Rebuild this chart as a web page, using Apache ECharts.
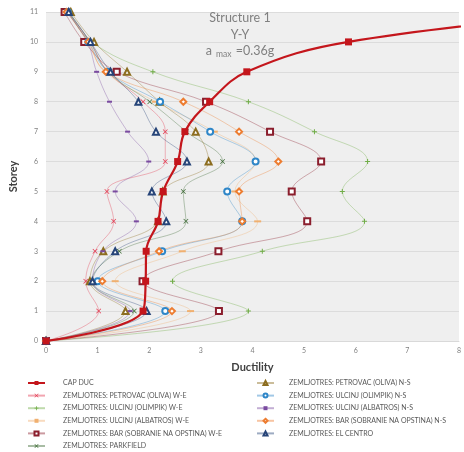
<!DOCTYPE html>
<html>
<head>
<meta charset="utf-8">
<script src="https://cdn.jsdelivr.net/npm/echarts@6/dist/echarts.min.js"></script>
<style>
  html, body { margin: 0; padding: 0; background: #ffffff; }
  #chart { width: 464px; height: 452px; }
</style>
</head>
<body>
<div id="chart"></div>
<script>
// storey levels (y) and ductility per storey for each record (x)
const storeys = [0, 1, 2, 3, 4, 5, 6, 7, 8, 9, 10, 11];
const xTicks = [0, 1, 2, 3, 4, 5, 6, 7, 8];

const capDuc = [0, 1.88, 1.93, 1.94, 2.17, 2.27, 2.55, 2.69, 3.17, 3.89, 5.86, 10.8];
const petrovacWE = [0, 1.02, 0.77, 0.95, 1.31, 1.18, 2.31, 2.31, 1.88, 1.2, 0.85, 0.42];
const olimpikWE = [0, 3.92, 2.45, 4.19, 6.17, 5.74, 6.23, 5.2, 3.92, 2.07, 0.88, 0.45];
const albatrosWE = [0, 2.8, 1.34, 2.64, 4.1, 3.66, 4.06, 3.26, 2.12, 1.15, 0.8, 0.42];
const barWE = [0, 3.35, 1.87, 3.34, 5.06, 4.76, 5.33, 4.34, 3.1, 1.37, 0.74, 0.36];
const parkfield = [0, 1.71, 0.88, 1.42, 2.71, 2.66, 3.42, 2.72, 2.01, 1.2, 0.85, 0.44];
const petrovacNS = [0, 1.54, 0.85, 1.11, 2.17, 2.26, 3.15, 2.9, 2.2, 1.57, 0.93, 0.48];
const olimpikNS = [0, 2.31, 1.0, 2.25, 3.8, 3.51, 4.06, 3.18, 2.21, 1.2, 0.82, 0.42];
const albatrosNS = [0, 1.63, 0.9, 1.1, 1.75, 1.34, 1.99, 1.58, 1.23, 0.98, 0.8, 0.4];
const barNS = [0, 2.44, 1.09, 2.19, 3.8, 3.74, 4.5, 3.74, 2.66, 1.16, 0.82, 0.4];
const elCentro = [0, 1.95, 0.9, 1.34, 2.33, 2.05, 2.73, 2.13, 1.79, 1.25, 0.86, 0.44];

const FONT = "Lato, 'Open Sans', sans-serif";
const CROSS = "path://M1,0L5,4L9,0L10,1L6,5L10,9L9,10L5,6L1,10L0,9L4,5L0,1Z";
const PLUS = "path://M4,0h2v4h4v2h-4v4h-2v-4h-4v-2h4z";
const DASH = "path://M0,0h10v3h-10z";

const records = [
  { name: "ZEMLJOTRES: PETROVAC (OLIVA) W-E", data: petrovacWE, color: "#e2384f", symbol: CROSS, size: 5 },
  { name: "ZEMLJOTRES: ULCINJ (OLIMPIK) W-E", data: olimpikWE, color: "#70ad47", symbol: PLUS, size: 5 },
  { name: "ZEMLJOTRES: ULCINJ (ALBATROS) W-E", data: albatrosWE, color: "#f0b070", symbol: DASH, size: [7, 2] },
  { name: "ZEMLJOTRES: BAR (SOBRANIE NA OPSTINA) W-E", data: barWE, color: "#8b1e2d", symbol: "emptyRect", size: 6 },
  { name: "ZEMLJOTRES: PARKFIELD", data: parkfield, color: "#3d6b35", symbol: CROSS, size: 5 },
  { name: "ZEMLJOTRES: PETROVAC (OLIVA) N-S", data: petrovacNS, color: "#8c6d1f", symbol: "emptyTriangle", size: 6 },
  { name: "ZEMLJOTRES: ULCINJ (OLIMPIK) N-S", data: olimpikNS, color: "#2e86c8", symbol: "emptyCircle", size: 6 },
  { name: "ZEMLJOTRES: ULCINJ (ALBATROS) N-S", data: albatrosNS, color: "#7a4ba0", symbol: DASH, size: [5, 2] },
  { name: "ZEMLJOTRES: BAR (SOBRANIE NA OPSTINA) N-S", data: barNS, color: "#ed7d31", symbol: "emptyDiamond", size: 6 },
  { name: "ZEMLJOTRES: EL CENTRO", data: elCentro, color: "#264478", symbol: "emptyTriangle", size: 6 }
];

function toPoints(values) {
  return values.map((x, i) => [x, storeys[i]]);
}

const series = records.map((r) => ({
  name: r.name,
  type: "line",
  data: toPoints(r.data),
  smooth: 0.4,
  symbol: r.symbol,
  symbolSize: r.size,
  showAllSymbol: true,
  itemStyle: { color: r.color, borderWidth: 1.1 },
  lineStyle: { color: r.color, width: 0.8, opacity: 0.45 },
  z: 2
}));

series.push({
  name: "CAP DUC",
  type: "line",
  data: toPoints(capDuc),
  smooth: 0.4,
  symbol: "rect",
  symbolSize: 7,
  itemStyle: { color: "#c4161c" },
  lineStyle: { color: "#c4161c", width: 2.2 },
  z: 5
});

function legendBlock(names, left, textGap) {
  return {
    data: names,
    orient: "vertical",
    left: left,
    top: 379,
    padding: 0,
    itemWidth: 17,
    itemHeight: 5,
    itemGap: 4.6,
    textStyle: { color: "#595959", fontSize: 7, fontFamily: FONT, padding: [0, 0, 0, textGap], lineHeight: 8 }
  };
}

const chart = echarts.init(document.getElementById("chart"));
chart.setOption({
  animation: false,
  backgroundColor: "#ffffff",
  title: {
    text: "Structure 1\nY-Y\na{sub|max} =0.36g",
    left: 240,
    top: 10,
    padding: 0,
    textAlign: "center",
    textStyle: {
      color: "#808080",
      fontSize: 12.5,
      fontWeight: "normal",
      fontFamily: FONT,
      lineHeight: 16.5,
      rich: {
        sub: { fontSize: 8.5, color: "#808080", fontFamily: FONT, padding: [7, 1, 0, 4] }
      }
    }
  },
  grid: {
    left: 40,
    right: 2,
    top: 12,
    bottom: 111,
    show: true,
    backgroundColor: "#efefef",
    borderWidth: 0
  },
  legend: [
    legendBlock(["CAP DUC", records[0].name, records[1].name, records[2].name, records[3].name, records[4].name], 27, 13),
    legendBlock([records[5].name, records[6].name, records[7].name, records[8].name, records[9].name], 256, 10)
  ],
  xAxis: {
    type: "value",
    min: xTicks[0],
    max: xTicks[xTicks.length - 1],
    interval: 1,
    name: "Ductility",
    nameLocation: "middle",
    nameGap: 21,
    nameTextStyle: { color: "#404040", fontSize: 11, fontWeight: "bold", fontFamily: FONT },
    axisLine: { show: true, lineStyle: { color: "#d9d9d9" } },
    axisTick: { show: false },
    axisLabel: { color: "#808080", fontSize: 7, fontFamily: FONT, margin: 6 },
    splitLine: { show: false }
  },
  yAxis: {
    type: "value",
    min: storeys[0],
    max: storeys[storeys.length - 1],
    interval: 1,
    name: "Storey",
    nameLocation: "middle",
    nameGap: 25,
    nameRotate: 90,
    nameTextStyle: { color: "#404040", fontSize: 11, fontWeight: "bold", fontFamily: FONT },
    axisLine: { show: false },
    axisTick: { show: false },
    axisLabel: { color: "#808080", fontSize: 7, fontFamily: FONT, margin: 8 },
    splitLine: { lineStyle: { color: "#dcdcdc", width: 1 } }
  },
  series: series
});
</script>
</body>
</html>
